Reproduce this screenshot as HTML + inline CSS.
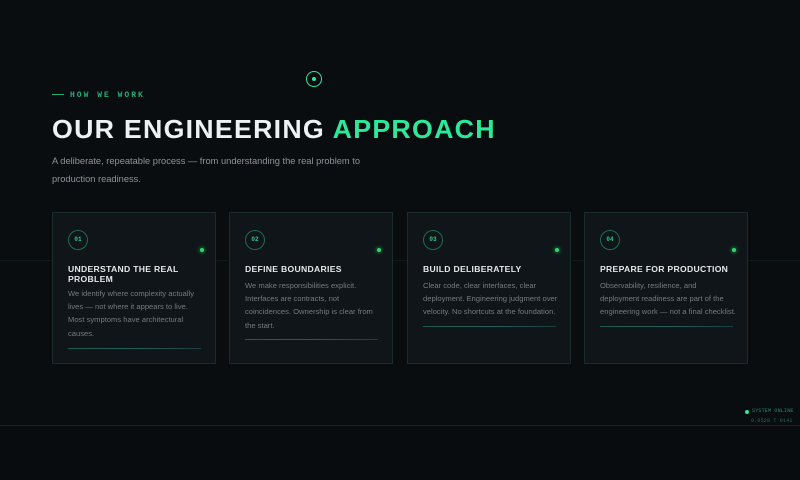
<!DOCTYPE html>
<html><head><style>
*{margin:0;padding:0;box-sizing:border-box}
body{width:800px;height:480px;background:#0a0d10;position:relative;overflow:hidden;font-family:"Liberation Sans",sans-serif}
.a{position:absolute}
.eyebrow{left:52px;top:91px;font-family:"Liberation Mono",monospace;font-size:8px;letter-spacing:2px;color:#1fae78;font-weight:bold;white-space:nowrap}
.eyebrow:before{content:"";display:inline-block;width:12px;height:1px;background:#1fae78;vertical-align:middle;margin-right:6px}
h1{position:absolute;left:52px;top:114px;font-size:26px;font-weight:bold;letter-spacing:1.2px;color:#eef0f2;white-space:nowrap;transform:scaleX(1.03);transform-origin:left}
h1 span{color:#2ee89a}
.sub{left:52px;top:152px;font-size:9.3px;line-height:18px;color:#8d9499;width:320px}
.card{position:absolute;top:212px;width:164px;height:152px;background:#0f1518;border:1px solid #1b2a2b}
.num{position:absolute;left:15px;top:17px;width:20px;height:20px;border:1px solid #1e6a4f;border-radius:50%;font-family:"Liberation Mono",monospace;font-size:6px;color:#2ec88a;text-align:center;line-height:18px;font-weight:bold}
.dot{position:absolute;right:11px;top:35px;width:4px;height:4px;border-radius:50%;background:#2bd96b;box-shadow:0 0 4px #2bd96b}
.t{position:absolute;left:15px;top:51px;width:140px;font-size:8.6px;font-weight:bold;color:#e6e8ea;letter-spacing:0.3px;line-height:10px}
.b{position:absolute;left:15px;white-space:nowrap;font-size:7.6px;line-height:13.2px;color:#737c81}
.line{position:absolute;left:15px;width:133px;height:1px;background:linear-gradient(90deg,#1e5a4c,#235f5a,#1a3e3e)}
</style></head><body>
<div class="a" style="left:0;top:260px;width:800px;height:1px;background:#0f1a1a"></div>
<div class="a" style="left:0;top:425px;width:800px;height:1px;background:#152224"></div>
<div class="a" style="left:0;top:426px;width:800px;height:54px;background:#090c0f"></div>
<div class="a" style="left:306px;top:71px;width:16px;height:16px;border:1.5px solid #2ee89a;border-radius:50%"></div>
<div class="a" style="left:312px;top:77px;width:4px;height:4px;background:#2ee89a;border-radius:50%"></div>
<div class="a eyebrow">HOW WE WORK</div>
<h1>OUR ENGINEERING <span>APPROACH</span></h1>
<div class="a sub">A deliberate, repeatable process — from understanding the real problem to production readiness.</div>

<div class="card" style="left:52px"><div class="num">01</div><div class="dot"></div>
<div class="t" style="width:125px">UNDERSTAND THE REAL PROBLEM</div>
<div class="b" style="top:74px">We identify where complexity actually<br>lives — not where it appears to live.<br>Most symptoms have architectural<br>causes.</div>
<div class="line" style="top:135px"></div></div>

<div class="card" style="left:229px"><div class="num">02</div><div class="dot"></div>
<div class="t">DEFINE BOUNDARIES</div>
<div class="b" style="top:66px">We make responsibilities explicit.<br>Interfaces are contracts, not<br>coincidences. Ownership is clear from<br>the start.</div>
<div class="line" style="top:126px"></div></div>

<div class="card" style="left:407px"><div class="num">03</div><div class="dot"></div>
<div class="t">BUILD DELIBERATELY</div>
<div class="b" style="top:66px">Clear code, clear interfaces, clear<br>deployment. Engineering judgment over<br>velocity. No shortcuts at the foundation.</div>
<div class="line" style="top:113px"></div></div>

<div class="card" style="left:584px"><div class="num">04</div><div class="dot"></div>
<div class="t" style="white-space:nowrap">PREPARE FOR PRODUCTION</div>
<div class="b" style="top:66px">Observability, resilience, and<br>deployment readiness are part of the<br>engineering work — not a final checklist.</div>
<div class="line" style="top:113px"></div></div>

<div class="a" style="left:745px;top:410px;width:4px;height:4px;border-radius:50%;background:#2ee89a"></div>
<div class="a" style="left:752px;top:408px;font-family:'Liberation Mono',monospace;font-size:5px;color:#2a8a70;letter-spacing:0.2px;white-space:nowrap">SYSTEM ONLINE</div>
<div class="a" style="left:751px;top:418px;font-family:'Liberation Mono',monospace;font-size:5px;color:#2a6a5c;letter-spacing:0.2px;white-space:nowrap">0.0528 T 0141</div>
</body></html>
